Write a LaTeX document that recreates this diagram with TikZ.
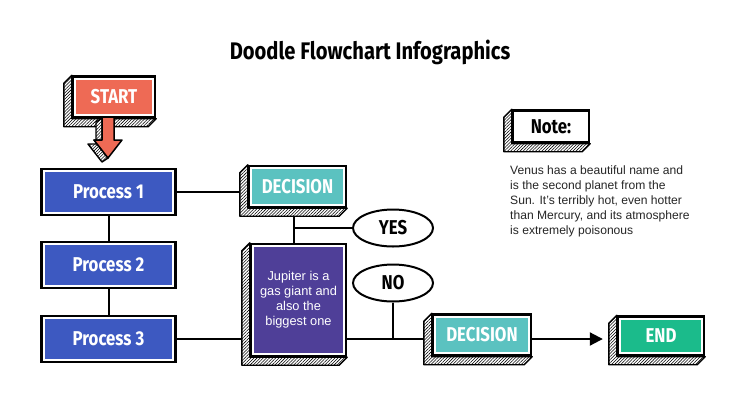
\documentclass[tikz,border=0pt]{standalone}
\usepackage{fontspec}
\setmainfont{Liberation Sans}
\newfontfamily\firafont{Fira Sans}[FakeStretch=0.84]
\usetikzlibrary{calc,arrows.meta,patterns.meta,shapes.geometric,backgrounds}

\definecolor{startred}{HTML}{EE6A55}
\definecolor{procblue}{HTML}{3D59C1}
\definecolor{decteal}{HTML}{5BC2C0}
\definecolor{jupviolet}{HTML}{4F3F98}
\definecolor{endgreen}{HTML}{1BBB8B}

\newcommand{\labelfont}{\firafont\bfseries\fontsize{20}{20}\selectfont}
% hatched slab on the left and bottom of a box
\newcommand{\slab}[1]{%
  \draw[hatch] (#1.north west) -- ++(-8,8) |- ($(#1.south east)+(-8,8)$) -- (#1.south east) -- (#1.south west) -- cycle;}

\begin{document}
\begin{tikzpicture}[x=1pt, y=-1pt,
    flowbox/.style={draw=black, line width=2.4pt, fill=white, inner sep=0pt, text=white, font=\labelfont,
      path picture={\fill[#1] ([shift={(3.4pt,-3.4pt)}]path picture bounding box.north west) rectangle ([shift={(-3.4pt,3.4pt)}]path picture bounding box.south east);}},
    hatch/.style={draw=black, line width=1.4pt, line join=round, preaction={fill=white},
      pattern={Lines[angle=45,distance=2.2pt,line width=0.55pt]}},
    answer/.style={ellipse, draw=black, line width=2pt, fill=white, inner sep=0pt,
      minimum width=80pt, minimum height=37pt, font=\labelfont},
    link/.style={draw=black, line width=2pt}]
  \useasboundingbox (0,0) rectangle (740,416);

  % title
  \node[font=\firafont\bfseries\fontsize{24}{24}\selectfont] (title) at (370,52) {Doodle Flowchart Infographics};

  % start with its arrow
  \node[flowbox=startred, minimum width=82pt, minimum height=41pt] (start) at (114,97) {START};
  \slab{start}
  \coordinate (stem) at (108,118);
  \draw[hatch] ($(stem)+(-6,0)$) -- ++(-6,4) -- ++(0,22) -- ++(-8,0) -- ($(stem)+(-6,44)$) -- ($(stem)+(0,40)$)
    -- ($(stem)+(-14,22)$) -- ($(stem)+(-6,22)$) -- cycle;
  \draw[fill=startred, line width=1.5pt, line join=round] ($(stem)+(-6,0)$) -- ($(stem)+(-6,22)$) -- ++(-8,0) -- ($(stem)+(0,40)$)
    -- ($(stem)+(14,22)$) -- ($(stem)+(6,22)$) -- ($(stem)+(6,0)$);

  % processes
  \foreach \i/\y in {1/192,2/265,3/339}
    \node[flowbox=procblue, minimum width=134pt, minimum height=46pt] (p\i) at (108.5,\y) {Process \i};

  % decisions, answers and the end
  \node[flowbox=decteal, minimum width=97pt, minimum height=41pt] (dec1) at (297.5,186.5) {DECISION};
  \slab{dec1}
  \node[flowbox=jupviolet, minimum width=95pt, minimum height=112pt, align=center,
    font=\fontsize{12.8}{15}\selectfont] (jup) at (298.5,300) {Jupiter is a\\gas giant and\\also the\\biggest one};
  \slab{jup}
  \node[answer] (yes) at (393,228) {YES};
  \node[answer] (no) at (393,283) {NO};
  \node[flowbox=decteal, minimum width=98pt, minimum height=41pt] (dec2) at (482,335) {DECISION};
  \slab{dec2}
  \node[flowbox=endgreen, minimum width=86pt, minimum height=39pt] (end) at (661,336) {END};
  \slab{end}

  % note
  \node[flowbox=white, text=black, minimum width=76pt, minimum height=32pt] (note) at (551,126.5) {Note:};
  \slab{note}
  \node[anchor=north west, inner sep=0pt, align=left, text=black!85, font=\fontsize{12.1}{14.8}\selectfont]
    (notetext) at (510,166) {Venus has a beautiful name and\\is the second planet from the\\Sun. It’s terribly hot, even hotter\\than Mercury, and its atmosphere\\is extremely poisonous};

  % connectors
  \begin{scope}[on background layer]
    \fill[white] (0,0) rectangle (740,416);
    \draw[link] (p1.south) -- (p2.north);
    \draw[link] (p2.south) -- (p3.north);
    \draw[link] (p1.east) -- (p1.east -| dec1.west);
    \draw[link] ([xshift=-4pt]dec1.south) -- ([xshift=-4pt]dec1.south |- jup.north);
    \draw[link] ([xshift=-4pt]dec1.south |- yes.west) -- (yes.west);
    \draw[link] (p3.east) -- (p3.east -| jup.west);
    \draw[link] (p3.east -| jup.east) -- (p3.east -| dec2.west);
    \draw[link] (no.south) -- (no.south |- p3.east);
    \draw[link, -{Triangle[length=13pt,width=13pt]}] (p3.east -| dec2.east) -- ([xshift=-14pt]p3.east -| end.west);
  \end{scope}
\end{tikzpicture}
\end{document}
